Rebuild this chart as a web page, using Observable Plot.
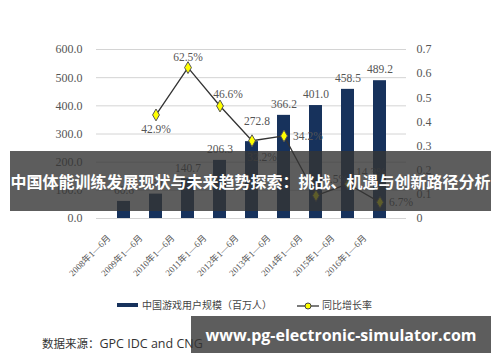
<!DOCTYPE html>
<html><head><meta charset="utf-8">
<script src="https://cdn.jsdelivr.net/npm/d3@7"></script>
<script src="https://cdn.jsdelivr.net/npm/@observablehq/plot@0.6"></script>
<style>
body{margin:0;background:#fff;}
#wrap{position:relative;width:500px;height:362px;overflow:hidden;background:#fff;}
#chart{position:absolute;left:0;top:0;}
.leg{position:absolute;font-family:"Noto Sans CJK SC",sans-serif;font-size:10px;color:#444;white-space:nowrap;line-height:12px;}
#source{position:absolute;left:42px;top:333px;font-family:"Noto Sans CJK SC",sans-serif;color:#333;white-space:nowrap;line-height:16px;}
.banner{position:absolute;background:rgba(52,52,52,0.8);color:#fff;font-weight:bold;display:flex;align-items:center;justify-content:center;white-space:nowrap;}
#b1{left:10px;top:151px;width:481px;height:60px;font-family:"Noto Sans CJK SC",sans-serif;font-size:16px;}
#b2{left:191px;top:316px;width:300px;height:37px;font-family:"Open Sans",sans-serif;font-size:16px;}
</style></head><body>
<div id="wrap">
<div id="chart"></div>
<div class="leg" style="left:117px;top:303px;width:21px;height:4px;background:#17325c;"></div>
<div class="leg" style="left:142px;top:299px;">中国游戏用户规模（百万人）</div>
<svg class="leg" style="left:297px;top:300px;" width="22" height="12"><line x1="0" y1="6" x2="22" y2="6" stroke="#333" stroke-width="1.3"/><circle cx="11" cy="6" r="3" fill="#ffff00" stroke="#444"/></svg>
<div class="leg" style="left:322px;top:299px;">同比增长率</div>
<div id="source"><span style="font-size:11.5px">数据来源：</span><span style="font-family:'Open Sans',sans-serif;font-size:12.5px">GPC IDC and CNG</span></div>
<div class="banner" id="b1">中国体能训练发展现状与未来趋势探索：挑战、机遇与创新路径分析</div>
<div class="banner" id="b2">www.pg-electronic-simulator.com</div>
</div>
<script>
const periods = ["2008年1—6月","2009年1—6月","2010年1—6月","2011年1—6月","2012年1—6月","2013年1—6月","2014年1—6月","2015年1—6月","2016年1—6月"];
const users = [60.6, 86.6, 140.7, 206.3, 272.8, 366.2, 401.0, 458.5, 489.2];
const growth = [null, 0.429, 0.625, 0.466, 0.322, 0.342, 0.095, 0.143, 0.067];
const leftTicks = [0, 100, 200, 300, 400, 500, 600];
const rightTicks = [0, 0.1, 0.2, 0.3, 0.4, 0.5, 0.6, 0.7];

const K = 600 / 0.7;
const rows = periods.map((p, i) => ({p, u: users[i], g: growth[i], i}));
const lineRows = rows.filter(d => d.g != null);
// label placement for growth labels (dx, dy, anchor)
const gPlace = {
  1: [0, 14, "middle"], 2: [0, -10, "middle"], 3: [8, -12, "middle"], 4: [10, 17, "middle"],
  5: [9, 0, "start"], 6: [8, -16, "start"], 7: [8, -12, "start"], 8: [9, 0, "start"]
};
const numFont = "'Liberation Serif','Noto Sans CJK SC',serif";

const marks = [
  Plot.gridY(leftTicks, {stroke: "#d4d4d4", strokeOpacity: 1}),
  Plot.axisY(leftTicks, {anchor: "left", tickSize: 0, tickPadding: 14, tickFormat: d => d.toFixed(1), label: null, fontSize: 12, fill: "#555"}),
  Plot.axisY(rightTicks.map(t => t * K), {anchor: "right", tickSize: 0, tickPadding: 10, tickFormat: d => String(+(d / K).toFixed(1)), label: null, fontSize: 12, fill: "#555"}),
  Plot.barY(rows, {x: "p", y: "u", fill: "#17325c"}),
  Plot.axisX({tickSize: 0, tickRotate: -45, tickPadding: 6, dx: -15, dy: 12, label: null, fontSize: 9, fill: "#555"}),
  Plot.text(rows.filter(d => d.i !== 4), {x: "p", y: "u", text: d => d.u.toFixed(1), dy: -11, fontSize: 11.5, fill: "#555"}),
  Plot.text(rows.filter(d => d.i === 4), {x: "p", y: "u", text: d => d.u.toFixed(1), dy: -20, dx: 5, fontSize: 11.5, fill: "#555"}),
  Plot.line(lineRows, {x: "p", y: d => d.g * K, stroke: "#333", strokeWidth: 1.3}),
  Plot.dot(lineRows, {x: "p", y: d => d.g * K, symbol: "diamond", r: 3.6, fill: "#ffff00", stroke: "#555", strokeWidth: 1})
];
for (const d of lineRows) {
  const [dx, dy, ta] = gPlace[d.i];
  marks.push(Plot.text([d], {x: "p", y: d => d.g * K, text: d => (d.g * 100).toFixed(1) + "%", dx, dy, textAnchor: ta, fontSize: 11.5, fill: "#555"}));
}

const chart = Plot.plot({
  width: 500, height: 290,
  marginTop: 49, marginBottom: 72, marginLeft: 96, marginRight: 94,
  x: {domain: periods, padding: 0.6, label: null},
  y: {domain: [0, 600], label: null},
  style: {fontFamily: numFont, background: "transparent", color: "#555", overflow: "visible"},
  marks
});
document.getElementById("chart").appendChild(chart);
</script>
</body></html>
